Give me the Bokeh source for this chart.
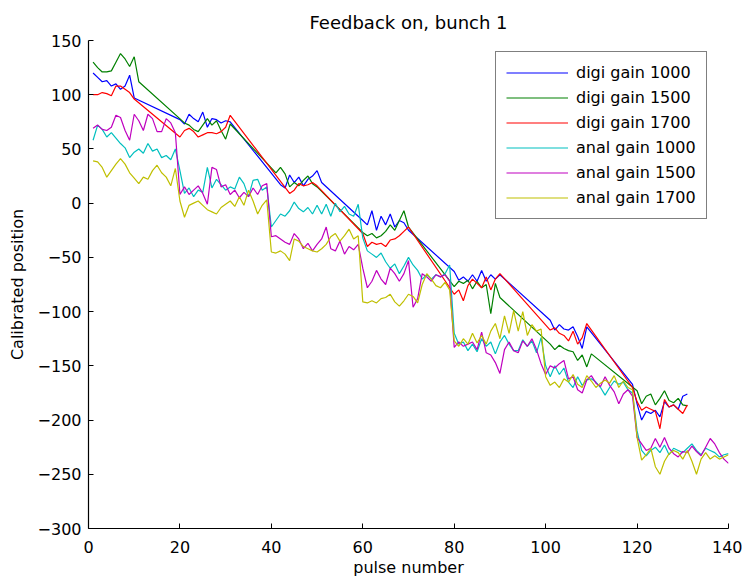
from bokeh.plotting import figure
from bokeh.models import Range1d, FixedTicker
from bokeh.embed import file_html
from bokeh.resources import INLINE

# ---------------- data ----------------
pulse = list(range(1, 141))

digi_1000_x = list(range(1, 11)) + list(range(20, 32)) + list(range(42, 52)) + list(range(60, 71)) \
    + list(range(80, 91)) + list(range(101, 110)) + list(range(119, 132))
digi_1000 = [120, 116, 112, 113, 108, 110, 105, 108, 118, 97,
             77, 73, 82, 78, 75, 84, 70, 78, 77, 74, 76, 75,
             17, 14, 26, 19, 24, 16, 22, 25, 30, 19,
             -16, -20, -7, -25, -12, -20, -10, -22, -16, -18, -25,
             -63, -71, -68, -72, -66, -72, -62, -72, -66, -70, -66,
             -108, -117, -112, -116, -117, -114, -123, -134, -114,
             -167, -185, -200, -192, -194, -191, -197, -183, -188, -186, -190, -178, -176]

digi_1500_x = list(range(1, 12)) + list(range(21, 32)) + list(range(41, 51)) + list(range(60, 71)) \
    + list(range(80, 91)) + list(range(101, 111)) + list(range(120, 132))
digi_1500 = [130, 125, 121, 121, 122, 130, 138, 133, 126, 135, 112,
             74, 72, 68, 66, 72, 78, 72, 76, 67, 59, 73,
             28, 33, 27, 15, 19, 16, 21, 25, 18, 15,
             -27, -30, -28, -32, -30, -26, -20, -25, -16, -7, -22,
             -77, -72, -74, -71, -79, -72, -78, -75, -102, -74, -87,
             -130, -135, -131, -134, -136, -137, -145, -140, -151, -139,
             -173, -185, -178, -176, -186, -180, -173, -182, -184, -180, -186, -187]

digi_1700_x = list(range(1, 11)) + list(range(20, 32)) + list(range(44, 51)) + list(range(60, 71)) \
    + list(range(80, 91)) + list(range(101, 110)) + list(range(119, 132))
digi_1700 = [100, 100, 102, 101, 99, 108, 108, 105, 102, 96,
             61, 67, 69, 66, 61, 63, 65, 65, 64, 66, 70, 81,
             9, 12, 18, 16, 17, 19, 16,
             -28, -40, -36, -38, -37, -40, -34, -33, -30, -26, -22,
             -84, -80, -90, -76, -70, -74, -78, -68, -80, -70, -65,
             -117, -115, -120, -122, -127, -118, -130, -124, -111,
             -170, -183, -191, -188, -190, -192, -208, -181, -188, -186, -190, -194, -186]

anal_1000 = [58, 72, 68, 61, 65, 60, 55, 51, 42, 47,
             50, 46, 55, 48, 50, 42, 44, 40, 50, 30,
             9, 14, 6, 12, 10, 33, 14, 22, 17, 12,
             15, 13, 24, 18, 6, 21, 22, 12, 15, -22,
             -16, -10, -12, -7, 1, -5, -8, -4, -10, -2,
             -10, -1, -12, 0, -8, -3, -10, -12, -1, -32,
             -44, -47, -50, -46, -54, -60, -56, -65, -58, -50,
             -57, -62, -70, -66, -70, -66, -68, -65, -57, -120,
             -130, -128, -136, -130, -137, -125, -132, -128, -139, -128,
             -122, -130, -136, -136, -126, -132, -127, -138, -124, -150,
             -160, -150, -158, -152, -165, -170, -160, -168, -163, -162,
             -165, -170, -177, -170, -164, -167, -165, -172, -175, -210,
             -228, -233, -228, -225, -230, -223, -232, -226, -228, -230,
             -226, -222, -228, -232, -226, -228, -230, -234, -232, -231]

anal_1500 = [69, 72, 68, 67, 70, 81, 79, 67, 58, 82,
             76, 67, 82, 78, 66, 66, 78, 74, 65, 8,
             15, 8, 12, 16, 9, -1, 33, 31, 15, 17,
             8, 12, 5, 10, 6, 14, 8, 16, 18, -31,
             -30, -33, -36, -38, -28, -33, -42, -37, -44, -38,
             -33, -22, -42, -44, -35, -47, -40, -43, -38, -60,
             -78, -72, -62, -70, -75, -60, -65, -72, -65, -53,
             -96, -88, -65, -68, -72, -66, -68, -66, -72, -133,
             -128, -132, -130, -128, -135, -119, -138, -140, -147, -157,
             -135, -128, -136, -138, -127, -132, -125, -135, -148, -158,
             -150, -152, -148, -145, -162, -160, -172, -175, -163, -159,
             -166, -169, -160, -168, -174, -185, -176, -172, -178, -216,
             -222, -228, -226, -217, -225, -216, -226, -231, -234, -229,
             -230, -224, -229, -233, -225, -217, -222, -230, -236, -240]

anal_1700 = [39, 38, 33, 24, 30, 36, 41, 36, 28, 23,
             18, 24, 22, 30, 35, 28, 24, 16, 32, 2,
             -13, -2, 0, 2, -2, -6, -8, -10, -4, -1,
             2, -3, 6, -2, 12, 2, -10, -2, 3, -45,
             -46, -44, -47, -53, -33, -35, -40, -42, -44, -45,
             -42, -38, -31, -28, -35, -30, -24, -33, -30, -91,
             -92, -90, -92, -88, -87, -84, -91, -95, -90, -84,
             -86, -92, -75, -65, -70, -76, -78, -73, -80, -127,
             -132, -125, -130, -120, -129, -122, -130, -118, -111, -125,
             -104, -120, -99, -118, -100, -122, -112, -118, -116, -160,
             -168, -165, -170, -162, -165, -158, -167, -170, -159, -164,
             -170, -166, -163, -166, -159, -170, -164, -170, -172, -216,
             -237, -232, -226, -243, -250, -238, -231, -228, -230, -236,
             -228, -238, -250, -236, -230, -236, -233, -236, -234, -232]

x_ticks = [0, 20, 40, 60, 80, 100, 120, 140]
y_ticks = [-300, -250, -200, -150, -100, -50, 0, 50, 100, 150]

series = [
    ("digi gain 1000", digi_1000_x, digi_1000, "#0000ff"),
    ("digi gain 1500", digi_1500_x, digi_1500, "#008000"),
    ("digi gain 1700", digi_1700_x, digi_1700, "#ff0000"),
    ("anal gain 1000", pulse, anal_1000, "#00bfbf"),
    ("anal gain 1500", pulse, anal_1500, "#bf00bf"),
    ("anal gain 1700", pulse, anal_1700, "#bfbf00"),
]

FONT = "DejaVu Sans"

p = figure(frame_width=640, frame_height=488, x_range=Range1d(0, 140), y_range=Range1d(-300, 150),
           output_backend="svg", toolbar_location=None, title="Feedback on, bunch 1",
           min_border_left=88, min_border_right=14, min_border_top=40, min_border_bottom=56,
           background_fill_color="white", border_fill_color="white")

for label, xs, ys, col in series:
    p.line(xs, ys, line_color=col, line_width=1.2, legend_label=label)

p.title.align = "center"
p.title.text_font = FONT
p.title.text_font_size = "18px"
p.title.text_font_style = "normal"
p.title.text_color = "black"
p.title.standoff = 16

p.xgrid.grid_line_color = None
p.ygrid.grid_line_color = None
p.outline_line_color = None

p.xaxis.ticker = FixedTicker(ticks=x_ticks)
p.yaxis.ticker = FixedTicker(ticks=y_ticks)
for ax in (p.xaxis[0], p.yaxis[0]):
    ax.axis_line_color = "black"
    ax.axis_line_width = 1.2
    ax.major_tick_line_color = "black"
    ax.major_tick_in = 5
    ax.major_tick_out = 0
    ax.minor_tick_line_color = None
    ax.major_label_text_font = FONT
    ax.major_label_text_font_size = "16px"
    ax.major_label_text_color = "black"
    ax.axis_label_text_font = FONT
    ax.axis_label_text_font_size = "16px"
    ax.axis_label_text_font_style = "normal"
    ax.axis_label_text_color = "black"
p.xaxis.major_label_standoff = 12
p.yaxis.major_label_standoff = 7
p.xaxis.axis_label = "pulse number"
p.yaxis.axis_label = "Calibrated position"
p.xaxis.axis_label_standoff = 2
p.yaxis.axis_label_standoff = 8

lg = p.legend[0]
lg.location = (407, 309)
lg.margin = 0
lg.padding = 10
lg.spacing = 4
lg.label_height = 21
lg.glyph_height = 21
lg.glyph_width = 62
lg.label_standoff = 8
lg.label_text_font = FONT
lg.label_text_font_size = "16px"
lg.label_text_color = "black"
lg.border_line_color = "black"
lg.border_line_width = 1
lg.background_fill_color = "white"
lg.background_fill_alpha = 1.0

open("out.html", "w").write(file_html(p, INLINE))
